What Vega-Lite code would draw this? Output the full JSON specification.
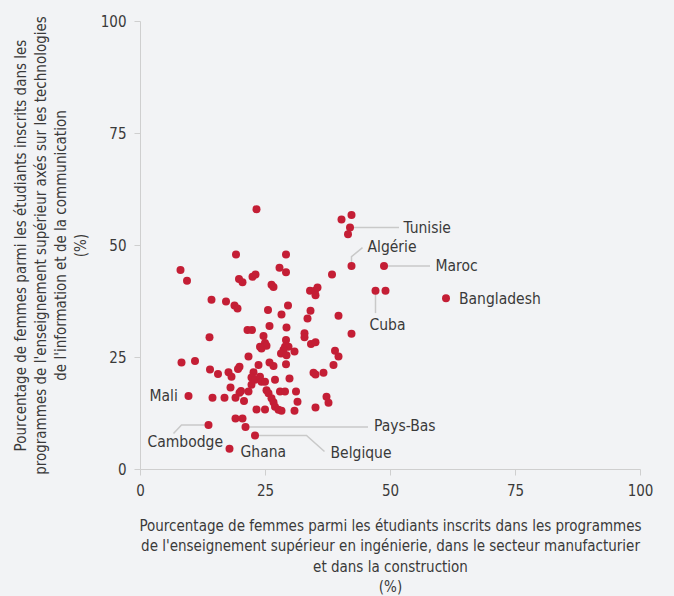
{
  "$schema": "https://vega.github.io/schema/vega-lite/v6.json",
  "width": 500,
  "height": 448,
  "autosize": "none",
  "padding": {"left": 140, "top": 21, "right": 34, "bottom": 127},
  "background": "#f2f3f5",
  "config": {
    "view": {"stroke": null},
    "font": "Liberation Sans Narrow, DejaVu Sans Condensed, sans-serif",
    "axis": {
      "labelFont": "Liberation Sans Narrow, DejaVu Sans Condensed, sans-serif",
      "titleFont": "Liberation Sans Narrow, DejaVu Sans Condensed, sans-serif",
      "labelFontSize": 15,
      "labelColor": "#3a3a3a",
      "titleFontSize": 15,
      "titleFontWeight": "normal",
      "titleColor": "#3a3a3a",
      "domainColor": "#cfcfcf",
      "tickColor": "#cfcfcf",
      "labelFlush": false,
      "grid": false
    }
  },
  "datasets": {
    "pts": [
      {"x": 23.3, "y": 58.0}, {"x": 19.2, "y": 47.9}, {"x": 29.2, "y": 47.9}, {"x": 8.1, "y": 44.4},
      {"x": 9.4, "y": 42.0}, {"x": 19.8, "y": 42.4}, {"x": 20.5, "y": 41.7}, {"x": 22.5, "y": 42.9},
      {"x": 23.1, "y": 43.4}, {"x": 27.9, "y": 44.9}, {"x": 29.2, "y": 43.9}, {"x": 26.3, "y": 41.1},
      {"x": 26.7, "y": 40.6}, {"x": 14.3, "y": 37.8}, {"x": 17.2, "y": 37.4}, {"x": 18.9, "y": 36.5},
      {"x": 19.5, "y": 35.8}, {"x": 25.6, "y": 35.5}, {"x": 28.3, "y": 34.5}, {"x": 29.6, "y": 36.5},
      {"x": 25.9, "y": 31.9}, {"x": 29.3, "y": 31.6}, {"x": 21.5, "y": 31.0}, {"x": 22.4, "y": 31.0},
      {"x": 13.9, "y": 29.4}, {"x": 24.7, "y": 29.7}, {"x": 25.0, "y": 28.1}, {"x": 25.3, "y": 27.5},
      {"x": 24.3, "y": 26.9}, {"x": 24.0, "y": 27.3}, {"x": 29.2, "y": 28.8}, {"x": 29.0, "y": 27.3},
      {"x": 29.7, "y": 27.3}, {"x": 28.7, "y": 26.6}, {"x": 28.2, "y": 25.8}, {"x": 29.3, "y": 25.4},
      {"x": 30.9, "y": 26.2}, {"x": 29.2, "y": 23.4}, {"x": 21.7, "y": 25.1}, {"x": 23.7, "y": 23.2},
      {"x": 25.9, "y": 23.8}, {"x": 26.7, "y": 23.0}, {"x": 8.3, "y": 23.8}, {"x": 11.0, "y": 24.1},
      {"x": 14.0, "y": 22.2}, {"x": 15.6, "y": 21.2}, {"x": 17.7, "y": 21.6}, {"x": 18.3, "y": 20.6},
      {"x": 19.9, "y": 22.8}, {"x": 19.6, "y": 22.3}, {"x": 22.7, "y": 21.6}, {"x": 22.3, "y": 20.4},
      {"x": 23.0, "y": 19.9}, {"x": 24.0, "y": 20.6}, {"x": 24.3, "y": 19.5}, {"x": 25.0, "y": 19.5},
      {"x": 27.0, "y": 19.9}, {"x": 29.9, "y": 20.2}, {"x": 18.1, "y": 18.2}, {"x": 20.2, "y": 17.4},
      {"x": 19.9, "y": 17.0}, {"x": 21.7, "y": 17.3}, {"x": 22.3, "y": 18.8}, {"x": 25.3, "y": 17.6},
      {"x": 25.7, "y": 16.9}, {"x": 28.0, "y": 17.3}, {"x": 29.0, "y": 17.3}, {"x": 31.2, "y": 17.3},
      {"x": 14.5, "y": 15.9}, {"x": 16.9, "y": 15.9}, {"x": 19.1, "y": 15.9}, {"x": 20.8, "y": 15.2},
      {"x": 26.3, "y": 15.8}, {"x": 26.7, "y": 14.9}, {"x": 27.0, "y": 13.9}, {"x": 27.7, "y": 13.2},
      {"x": 28.3, "y": 13.0}, {"x": 31.5, "y": 15.0}, {"x": 30.9, "y": 13.0}, {"x": 23.3, "y": 13.3},
      {"x": 25.0, "y": 13.3}, {"x": 19.1, "y": 11.3}, {"x": 20.5, "y": 11.3}, {"x": 9.7, "y": 16.3},
      {"x": 13.7, "y": 9.8}, {"x": 21.1, "y": 9.4}, {"x": 23.0, "y": 7.5}, {"x": 17.9, "y": 4.5},
      {"x": 40.3, "y": 55.7}, {"x": 42.3, "y": 56.7}, {"x": 42.0, "y": 53.9}, {"x": 41.6, "y": 52.4},
      {"x": 42.3, "y": 45.3}, {"x": 48.8, "y": 45.3}, {"x": 47.1, "y": 39.8}, {"x": 49.1, "y": 39.8},
      {"x": 61.2, "y": 38.1}, {"x": 38.4, "y": 43.4}, {"x": 34.0, "y": 39.8}, {"x": 35.0, "y": 39.8},
      {"x": 35.5, "y": 40.5}, {"x": 35.1, "y": 38.8}, {"x": 34.1, "y": 35.3}, {"x": 33.5, "y": 33.6},
      {"x": 39.7, "y": 34.2}, {"x": 32.9, "y": 30.3}, {"x": 32.9, "y": 29.4}, {"x": 42.3, "y": 30.2},
      {"x": 34.2, "y": 27.9}, {"x": 35.1, "y": 28.3}, {"x": 39.0, "y": 26.4}, {"x": 39.7, "y": 25.1},
      {"x": 38.7, "y": 23.2}, {"x": 34.7, "y": 21.5}, {"x": 35.1, "y": 21.1}, {"x": 36.7, "y": 21.5},
      {"x": 37.3, "y": 16.1}, {"x": 37.7, "y": 14.8}, {"x": 35.1, "y": 13.7}
    ],
    "labels": [
      {"name": "Tunisie", "x": 52.7, "y": 53.9},
      {"name": "Algérie", "x": 45.5, "y": 49.6},
      {"name": "Maroc", "x": 59.1, "y": 45.3},
      {"name": "Bangladesh", "x": 63.8, "y": 38.0},
      {"name": "Cuba", "x": 45.9, "y": 32.1},
      {"name": "Pays-Bas", "x": 46.8, "y": 9.6},
      {"name": "Belgique", "x": 38.1, "y": 3.5},
      {"name": "Ghana", "x": 20.1, "y": 3.9},
      {"name": "Cambodge", "x": 1.5, "y": 6.0},
      {"name": "Mali", "x": 1.9, "y": 16.4}
    ],
    "leaders": [
      {"grp": "Tunisie", "ord": 1, "x": 42.0, "y": 53.9},
      {"grp": "Tunisie", "ord": 2, "x": 51.8, "y": 53.9},
      {"grp": "Algérie", "ord": 1, "x": 42.3, "y": 45.3},
      {"grp": "Algérie", "ord": 2, "x": 42.3, "y": 47.4},
      {"grp": "Algérie", "ord": 3, "x": 44.5, "y": 49.4},
      {"grp": "Maroc", "ord": 1, "x": 48.8, "y": 45.3},
      {"grp": "Maroc", "ord": 2, "x": 58.0, "y": 45.3},
      {"grp": "Cuba", "ord": 1, "x": 47.1, "y": 39.8},
      {"grp": "Cuba", "ord": 2, "x": 47.1, "y": 34.8},
      {"grp": "Pays-Bas", "ord": 1, "x": 21.1, "y": 9.4},
      {"grp": "Pays-Bas", "ord": 2, "x": 45.6, "y": 9.4},
      {"grp": "Belgique", "ord": 1, "x": 23.0, "y": 7.5},
      {"grp": "Belgique", "ord": 2, "x": 33.3, "y": 7.5},
      {"grp": "Belgique", "ord": 3, "x": 36.9, "y": 3.9},
      {"grp": "Cambodge", "ord": 1, "x": 13.7, "y": 9.8},
      {"grp": "Cambodge", "ord": 2, "x": 8.3, "y": 9.8},
      {"grp": "Cambodge", "ord": 3, "x": 6.7, "y": 7.9}
    ]
  },
  "encoding": {
    "x": {
      "field": "x", "type": "quantitative",
      "scale": {"domain": [0, 100], "nice": false},
      "axis": {
        "values": [0, 25, 50, 75, 100],
        "tickSize": 6, "labelPadding": 8, "titlePadding": 20, "titleLineHeight": 20.5,
        "title": ["Pourcentage de femmes parmi les étudiants inscrits dans les programmes", "de l'enseignement supérieur en ingénierie, dans le secteur manufacturier", "et dans la construction", "(%)"]
      }
    },
    "y": {
      "field": "y", "type": "quantitative",
      "scale": {"domain": [0, 100], "nice": false},
      "axis": {
        "values": [0, 25, 50, 75, 100],
        "tickSize": 6, "labelPadding": 8, "titlePadding": 12, "titleLineHeight": 20,
        "title": ["Pourcentage de femmes parmi les étudiants inscrits dans les", "programmes de l'enseignement supérieur axés sur les technologies", "de l'information et de la communication", "(%)"]
      }
    }
  },
  "layer": [
    {
      "data": {"name": "leaders"},
      "mark": {"type": "line", "color": "#c9c9c9", "strokeWidth": 1.5},
      "encoding": {
        "detail": {"field": "grp"},
        "order": {"field": "ord", "type": "quantitative"}
      }
    },
    {
      "data": {"name": "pts"},
      "mark": {"type": "circle", "size": 64, "color": "#c41e35", "opacity": 1}
    },
    {
      "data": {"name": "labels"},
      "mark": {"type": "text", "align": "left", "baseline": "middle", "fontSize": 15.5, "color": "#3a3a3a", "font": "Liberation Sans Narrow, DejaVu Sans Condensed, sans-serif"},
      "encoding": {"text": {"field": "name"}}
    }
  ]
}
